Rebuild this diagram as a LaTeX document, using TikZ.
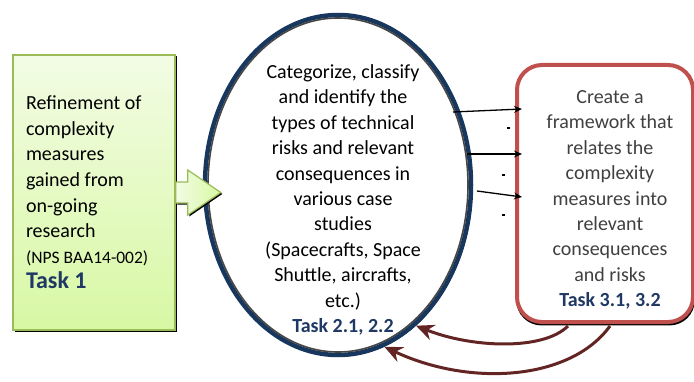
\documentclass[tikz,border=0pt]{standalone}
\usepackage{fontspec}
\setmainfont{Carlito}
\usetikzlibrary{calc,shapes.geometric,arrows.meta,shadows}

\definecolor{taskblue}{RGB}{31,56,100}
\definecolor{ringblue}{RGB}{23,55,94}
\definecolor{ringgray}{RGB}{70,70,70}
\definecolor{boxgreen}{RGB}{155,187,89}
\definecolor{greentop}{RGB}{242,252,228}
\definecolor{greenbot}{RGB}{216,248,164}
\definecolor{boxred}{RGB}{192,80,77}
\definecolor{loopbrown}{RGB}{99,37,35}

\newcommand{\tasknote}[1]{{\bfseries\color{taskblue}#1}}

\tikzset{
	txt/.style={font=\fontsize{20}{25.4}\selectfont, align=center},
	blackshadow/.style={drop shadow={shadow xshift=1.5pt, shadow yshift=-1.5pt, opacity=1, fill=black}},
	link/.style={line width=1.3pt, -{Stealth[length=8pt,width=7pt]}},
	feedback/.style={draw=loopbrown, line width=3pt, -{Stealth[length=18pt,width=16pt,inset=6pt]}}
}

\begin{document}
\begin{tikzpicture}[x=1pt,y=1pt]

	% ---- parameters

	\def\ringrx{133}
	\def\ringry{170}

	\useasboundingbox (0,0) rectangle (694,381);

	% ---- input box

	\node[draw=boxgreen, line width=1.5pt, top color=greentop, bottom color=greenbot, blackshadow,
		minimum width=162pt, minimum height=275pt, text width=136pt, align=flush left,
		font=\fontsize{20}{25.6}\selectfont] (task1) at (94,188.5)
		{Refinement of\\ complexity\\ measures\\ gained from\\ on-going\\ research\\
		{\fontsize{17.5}{20}\selectfont (NPS BAA14-002)}\\
		{\fontsize{24}{28}\selectfont\tasknote{Task 1}}};

	% ---- case studies

	\node[ellipse, draw=ringblue, line width=4.5pt, fill=white, blackshadow,
		minimum width={2*\ringrx pt}, minimum height={2*\ringry pt}] (cat) at (338,196) {};
	\draw[ringgray, line width=1.6pt] (cat.center) ellipse ({\ringrx-3} and {\ringry-3});

	\node[txt] (cattext) at (343,181)
		{Categorize, classify\\ and identify the\\ types of technical\\ risks and relevant\\
		consequences in\\ various case\\ studies\\ (Spacecrafts, Space\\ Shuttle, aircrafts,\\
		etc.)\\ \tasknote{Task 2.1, 2.2}};

	% pointer from input box
	\coordinate (tip) at ($(task1.east)+(45,0)$);
	\draw[draw=boxgreen, line width=1.2pt, left color=greentop, right color=greenbot, blackshadow]
		($(task1.east)+(0,10.5)$) -- ++(12,0) -- ++(0,12) -- (tip)
		-- ($(task1.east)+(12,-22.5)$) -- ++(0,12) -- ++(-12,0) -- cycle;

	% ---- framework box

	\node[draw=boxred, line width=4pt, rounded corners=25pt, fill=white,
		drop shadow={shadow xshift=0.5pt, shadow yshift=-1.5pt, shadow scale=1.015, opacity=1, fill=black},
		minimum width=176pt, minimum height=257pt] (frame) at (605,187.5) {};

	\node[txt, text=black!75] (frametext) at (610,181)
		{Create a\\ framework that\\ relates the\\ complexity\\ measures into\\ relevant\\
		consequences\\ and risks\\ \tasknote{Task 3.1, 3.2}};

	% links into the framework
	\foreach \sx/\sy/\ty [count=\i] in {453/269/84.5, 467/227/39.5, 477/190/-3.5} {
		\coordinate (src\i) at (\sx,\sy);
		\draw[link] (src\i) -- ($(frame.west)+(7,\ty)$);
	}

	% small marks
	\foreach \dx/\dy in {508/253, 503/206, 503/166} {
		\draw[line width=1.3pt] (\dx-1.5,\dy) -- (\dx+1.5,\dy);
	}

	% ---- feedback loops

	\draw[feedback] ($(frame.south)+(-37,-2)$) .. controls +(-25,-25) and +(55,-22) .. (cat.-61);
	\draw[feedback] ($(frame.south)+(5,-2)$) .. controls +(-40,-55) and +(85,-40) .. (cat.-74);

\end{tikzpicture}
\end{document}
